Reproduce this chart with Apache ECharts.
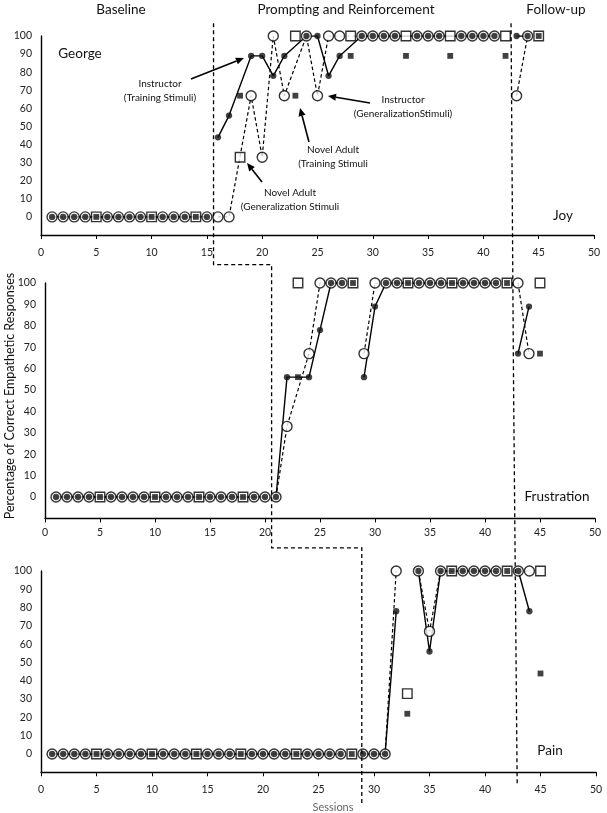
<!DOCTYPE html>
<html><head><meta charset="utf-8">
<script src="https://cdn.jsdelivr.net/npm/echarts@6/dist/echarts.min.js"></script>
<style>html,body{margin:0;padding:0;background:#fff}#c{width:607px;height:813px}</style>
</head><body><div id="c"></div>
<script>
// ---------- DATA (index = session - 1, sessions 1..45) ----------
const sessions = [1,2,3,4,5,6,7,8,9,10,11,12,13,14,15,16,17,18,19,20,21,22,23,24,25,26,27,28,29,30,31,32,33,34,35,36,37,38,39,40,41,42,43,44,45];
const xTickValues = [0,5,10,15,20,25,30,35,40,45,50];
const yTickValues = [0,10,20,30,40,50,60,70,80,90,100];

// Joy (George)
const joyInstrTrain = [0,0,0,0,null,0,0,0,0,null,0,0,0,null,0,
  44,56,null,89,89,78,89,null,100,100,78,89,null,100,100,
  100,100,null,100,100,100,null,100,100,100,100,null,100,100,null];
const joyInstrGen = [0,0,0,0,null,0,0,0,0,null,0,0,0,null,0,
  0,0,null,67,33,100,67,null,100,67,100,100,null,100,100,
  100,100,null,100,100,100,null,100,100,100,100,null,67,100,null];
const joyNovelTrain = [null,null,null,null,0,null,null,null,null,0,null,null,null,0,null,
  null,null,67,null,null,null,null,67,null,null,null,null,89,null,null,
  null,null,89,null,null,null,89,null,null,null,null,89,null,null,100];
const joyNovelGen = [null,null,null,null,0,null,null,null,null,0,null,null,null,0,null,
  null,null,33,null,null,null,null,100,null,null,null,null,100,null,null,
  null,null,100,null,null,null,100,null,null,null,null,100,null,null,100];

// Frustration
const frInstrTrain = [0,0,0,0,null,0,0,0,0,null,0,0,0,null,0,
  0,0,null,0,0,0,56,null,56,78,100,100,null,56,89,
  100,100,null,100,100,100,null,100,100,100,100,null,67,89,null];
const frInstrGen = [0,0,0,0,null,0,0,0,0,null,0,0,0,null,0,
  0,0,null,0,0,0,33,null,67,100,100,100,null,67,100,
  100,100,null,100,100,100,null,100,100,100,100,null,100,67,null];
const frNovelTrain = [null,null,null,null,0,null,null,null,null,0,null,null,null,0,null,
  null,null,0,null,null,null,null,56,null,null,null,null,100,null,null,
  null,null,100,null,null,null,100,null,null,null,null,100,null,null,67];
const frNovelGen = [null,null,null,null,0,null,null,null,null,0,null,null,null,0,null,
  null,null,0,null,null,null,null,100,null,null,null,null,100,null,null,
  null,null,100,null,null,null,100,null,null,null,null,100,null,null,100];

// Pain
const painInstrTrain = [0,0,0,0,null,0,0,0,0,null,0,0,0,null,0,
  0,0,null,0,0,0,0,null,0,0,0,0,null,0,0,
  0,78,null,100,56,100,null,100,100,100,100,null,100,78,null];
const painInstrGen = [0,0,0,0,null,0,0,0,0,null,0,0,0,null,0,
  0,0,null,0,0,0,0,null,0,0,0,0,null,0,0,
  0,100,null,100,67,100,null,100,100,100,100,null,100,100,null];
const painNovelTrain = [null,null,null,null,0,null,null,null,null,0,null,null,null,0,null,
  null,null,0,null,null,null,null,0,null,null,null,null,0,null,null,
  null,null,22,null,null,null,100,null,null,null,null,100,null,null,44];
const painNovelGen = [null,null,null,null,0,null,null,null,null,0,null,null,null,0,null,
  null,null,0,null,null,null,null,0,null,null,null,null,0,null,null,
  null,null,33,null,null,null,100,null,null,null,null,100,null,null,100];

// connected line segments (first session, last session)
const joySegments = [[1,15],[16,42],[43,45]];
const frSegments = [[1,20],[21,27],[29,42],[43,45]];
const painSegments = [[1,28],[29,32],[34,42],[43,45]];

// phase change positions (session axis)
const phaseChange = [15.6, 20.6, 28.9];
const followUpChange = [42.5, 42.6, 42.9];

const panelNames = ['Joy','Frustration','Pain'];
const phaseTitles = ['Baseline','Prompting and Reinforcement','Follow-up'];

// ---------- LAYOUT / STYLE ----------
const FONT = 'Lato, "Open Sans", sans-serif';
const panels = [
  {IT:joyInstrTrain, IG:joyInstrGen, NT:joyNovelTrain, NG:joyNovelGen, seg:joySegments},
  {IT:frInstrTrain, IG:frInstrGen, NT:frNovelTrain, NG:frNovelGen, seg:frSegments},
  {IT:painInstrTrain, IG:painInstrGen, NT:painNovelTrain, NG:painNovelGen, seg:painSegments}
];
const gridBoxes = [
  {left:41, top:36, width:553, height:199},
  {left:45, top:283, width:550, height:235.4},
  {left:41, top:571, width:555, height:201.3}
];
const xLabelMargin = [12, 9, 12];

function pairs(arr, a, b) {
  const d = [];
  for (let i = 0; i < sessions.length; i++) {
    const s = sessions[i];
    if (s < a || s > b) continue;
    if (arr[i] !== null) d.push([s, arr[i]]);
  }
  return d;
}

const series = [];
panels.forEach((p, g) => {
  p.seg.forEach(sg => {
    series.push({type:'line', xAxisIndex:g, yAxisIndex:g, data:pairs(p.IG, sg[0], sg[1]),
      symbol:'none', silent:true, z:2, lineStyle:{color:'#000', width:1.2, type:[3.5,2.5]}});
    series.push({type:'line', xAxisIndex:g, yAxisIndex:g, data:pairs(p.IT, sg[0], sg[1]),
      symbol:'none', silent:true, z:2, lineStyle:{color:'#000', width:1.4}});
  });
  series.push({type:'scatter', xAxisIndex:g, yAxisIndex:g, data:pairs(p.NG,1,45), symbol:'rect', symbolSize:9.5, z:3,
    itemStyle:{color:'#fff', borderColor:'#000', borderWidth:1.4}});
  series.push({type:'scatter', xAxisIndex:g, yAxisIndex:g, data:pairs(p.IG,1,45), symbol:'circle', symbolSize:10, z:3,
    itemStyle:{color:'#fff', borderColor:'#000', borderWidth:1.4}});
  series.push({type:'scatter', xAxisIndex:g, yAxisIndex:g, data:pairs(p.NT,1,45), symbol:'rect', symbolSize:5.8, z:4,
    itemStyle:{color:'#111'}});
  series.push({type:'scatter', xAxisIndex:g, yAxisIndex:g, data:pairs(p.IT,1,45), symbol:'circle', symbolSize:6.3, z:4,
    itemStyle:{color:'#111'}});
});

const option = {
  animation:false,
  backgroundColor:'#fff',
  grid: gridBoxes.map(b => Object.assign({containLabel:false, outerBoundsMode:'none'}, b)),
  xAxis: gridBoxes.map((b, g) => ({
    gridIndex:g, type:'value', min:xTickValues[0], max:xTickValues[xTickValues.length-1], interval:xTickValues[1]-xTickValues[0],
    axisLine:{show:true, onZero:false, lineStyle:{color:'#000', width:1.4}},
    axisTick:{show:true, length:4, lineStyle:{color:'#000', width:1}},
    splitLine:{show:false},
    axisLabel:{margin:xLabelMargin[g], fontSize:10.5, color:'#222', fontFamily:FONT}
  })),
  yAxis: gridBoxes.map((b, g) => ({
    gridIndex:g, type:'value', min:-10, max:yTickValues[yTickValues.length-1], interval:yTickValues[1]-yTickValues[0],
    axisLine:{show:true, lineStyle:{color:'#000', width:1.4}},
    axisTick:{show:false},
    splitLine:{show:false},
    axisLabel:{margin:9, fontSize:10.5, color:'#222', fontFamily:FONT,
      formatter: v => (v < 0 ? '' : String(v))}
  })),
  series: series
};

const chart = echarts.init(document.getElementById('c'), null, {renderer:'canvas'});
chart.setOption(option);

const P = (g, x, y) => chart.convertToPixel({gridIndex:g}, [x, y]);
const dash = {stroke:'#000', lineWidth:1.3, lineDash:[4,3], fill:null};
const gfx = [];

// phase change step line
const a1 = P(0, phaseChange[0], 107), a2 = P(0, phaseChange[0], -26.4);
const b1x = P(1, phaseChange[1], 0)[0], b2 = P(1, phaseChange[1], -23.8);
const c1x = P(2, phaseChange[2], 0)[0], c2 = P(2, phaseChange[2], -28.4);
gfx.push({type:'polyline', silent:true, z:10, shape:{points:[a1, a2, [b1x, a2[1]], [b1x, b2[1]], [c1x, b2[1]], [c1x, c2[1]]]}, style:dash});
// follow-up line
gfx.push({type:'polyline', silent:true, z:10, shape:{points:[P(0, followUpChange[0], 107), P(1, followUpChange[1], 50), P(2, followUpChange[2], -17)]}, style:dash});

function txt(t, x, y, size, color, align) {
  return {type:'text', silent:true, z:20, x:x, y:y,
    style:{text:t, x:0, y:0, font:size + 'px ' + FONT, fill:color||'#111',
      align:align||'center', verticalAlign:'middle', textAlign:align||'center', textVerticalAlign:'middle'}};
}

// phase titles
gfx.push(txt(phaseTitles[0], 121, 10, 13.5));
gfx.push(txt(phaseTitles[1], 346, 10, 13.5));
gfx.push(txt(phaseTitles[2], 556, 10, 13.5));
// panel labels
gfx.push(txt('George', 80, 54, 13.5));
gfx.push(txt(panelNames[0], 563, 216, 13.5));
gfx.push(txt(panelNames[1], 557, 497, 13.5));
gfx.push(txt(panelNames[2], 550, 751, 13.5));
// axis titles
const yt = txt('Percentage of Correct Empathetic Responses', 10, 396, 12.5, '#111');
yt.rotation = Math.PI/2;
gfx.push(yt);
gfx.push(txt('Sessions', 333, 807, 11, '#666'));

// annotations (panel 1 data coords)
const annotations = [
  {lines:['Instructor','(Training Stimuli)'], at:[10.76,73.5], tail:[13.56,76.2], head:[18.35,87.8]},
  {lines:['Instructor','(GeneralizationStimuli)'], at:[32.73,64.6], tail:[29.75,63.0], head:[25.95,66.9]},
  {lines:['Novel Adult','(Training Stimuli'], at:[26.4,37.0], tail:[24.23,41.4], head:[23.42,60.2]},
  {lines:['Novel Adult','(Generalization Stimuli'], at:[22.51,13.3], tail:[19.98,19.3], head:[18.63,29.8]}
];
annotations.forEach(an => {
  const p = P(0, an.at[0], an.at[1]);
  an.lines.forEach((l, i) => gfx.push(txt(l, p[0], p[1] + i*13.5, 10, '#111')));
  const t = P(0, an.tail[0], an.tail[1]), h = P(0, an.head[0], an.head[1]);
  const dx = h[0]-t[0], dy = h[1]-t[1], len = Math.hypot(dx, dy), ux = dx/len, uy = dy/len;
  const L = 8, W = 3.6;
  const bx = h[0]-ux*L, by = h[1]-uy*L;
  gfx.push({type:'line', silent:true, z:15, shape:{x1:t[0], y1:t[1], x2:bx, y2:by}, style:{stroke:'#000', lineWidth:1.6}});
  gfx.push({type:'polygon', silent:true, z:15, shape:{points:[h, [bx - uy*W, by + ux*W], [bx + uy*W, by - ux*W]]}, style:{fill:'#000'}});
});

chart.setOption({graphic:{elements:gfx}});
</script>
</body></html>
